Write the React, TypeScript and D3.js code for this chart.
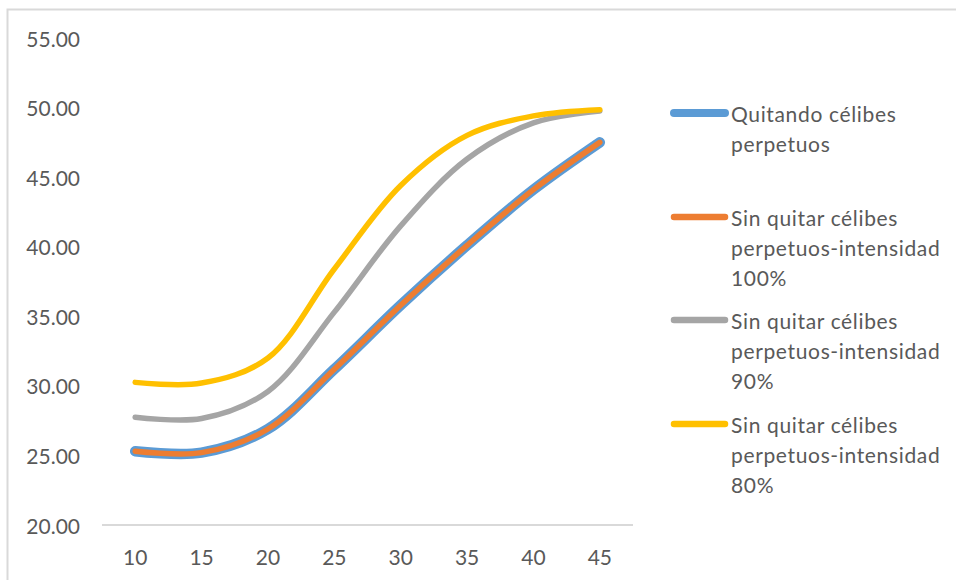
import React from "react";
import * as d3 from "d3";

const categories = ["10", "15", "20", "25", "30", "35", "40", "45"];
const seriesNames = [
  ["Quitando célibes", "perpetuos"],
  ["Sin quitar célibes", "perpetuos-intensidad", "100%"],
  ["Sin quitar célibes", "perpetuos-intensidad", "90%"],
  ["Sin quitar célibes", "perpetuos-intensidad", "80%"],
];
const quitando = [25.3, 25.2, 26.9, 31.2, 35.8, 40.1, 44.1, 47.5];
const sin100 = [25.3, 25.2, 26.9, 31.2, 35.8, 40.1, 44.1, 47.5];
const sin90 = [27.75, 27.65, 29.6, 35.3, 41.5, 46.3, 48.9, 49.75];
const sin80 = [30.25, 30.2, 32.0, 38.4, 44.4, 48.0, 49.4, 49.85];
const yTicks = [20, 25, 30, 35, 40, 45, 50, 55];

const colors = ["#5B9BD5", "#ED7D31", "#A5A5A5", "#FFC000"];
const widths = [10.5, 5.5, 5.5, 5.5];
const legendWidths = [8, 6.5, 6.5, 6.5];

export default function App() {
  const x = d3.scaleBand<string>().domain(categories).range([102, 633]);
  const y = d3.scaleLinear().domain([20, 55]).range([525, 38]);
  const line = d3
    .line<number>()
    .x((_, i) => (x(categories[i]) as number) + x.bandwidth() / 2)
    .y((d) => y(d))
    .curve(d3.curveCatmullRom.alpha(0.5));
  const data = [quitando, sin100, sin90, sin80];
  const font = "Lato, 'Open Sans', sans-serif";
  const textColor = "#595959";
  const legendY = [113, 217, 320, 424];
  return (
    <svg
      width={956}
      height={580}
      style={{ position: "absolute", left: 0, top: 0, background: "#fff" }}
      fontFamily={font}
    >
      <rect x={0} y={0} width={956} height={580} fill="#fff" />
      <path d="M7.5,600 L7.5,9.5 L960,9.5" fill="none" stroke="#D9D9D9" strokeWidth={2} />
      {yTicks.map((t) => (
        <text
          key={t}
          x={80}
          y={y(t)}
          textAnchor="end"
          dominantBaseline="central"
          fontSize={21}
          fill={textColor}
        >
          {t.toFixed(2)}
        </text>
      ))}
      <line x1={102} x2={633} y1={y(20)} y2={y(20)} stroke="#D9D9D9" strokeWidth={2} />
      {categories.map((c) => (
        <text
          key={c}
          x={(x(c) as number) + x.bandwidth() / 2}
          y={556}
          textAnchor="middle"
          dominantBaseline="central"
          fontSize={21}
          fill={textColor}
        >
          {c}
        </text>
      ))}
      {data.map((d, i) => (
        <path
          key={i}
          d={line(d) || ""}
          fill="none"
          stroke={colors[i]}
          strokeWidth={widths[i]}
          strokeLinecap="round"
          strokeLinejoin="round"
        />
      ))}
      {seriesNames.map((lines, i) => (
        <g key={i}>
          <line
            x1={674}
            x2={725}
            y1={legendY[i]}
            y2={legendY[i]}
            stroke={colors[i]}
            strokeWidth={legendWidths[i]}
            strokeLinecap="round"
          />
          {lines.map((t, j) => (
            <text
              key={j}
              x={731}
              y={legendY[i] + j * 30}
              dominantBaseline="central"
              fontSize={21}
              letterSpacing={0.65}
              fill={textColor}
            >
              {t}
            </text>
          ))}
        </g>
      ))}
    </svg>
  );
}
